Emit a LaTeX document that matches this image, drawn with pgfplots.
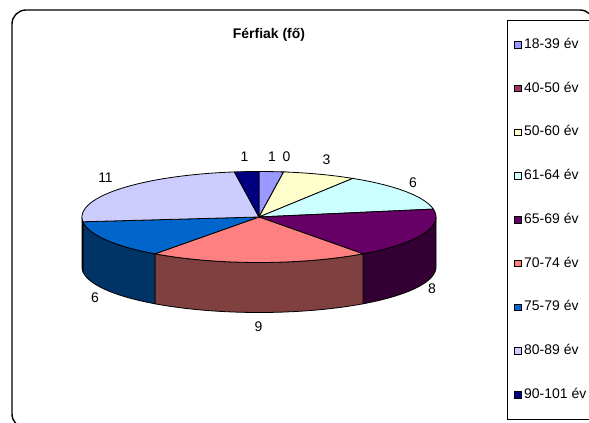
\documentclass[border=0pt]{standalone}
\usepackage{pgfplots}
\pgfplotsset{compat=1.18}
\usepackage{pgfplotstable}
\usepgfplotslibrary{fillbetween}
\usepackage{fontspec}
\setmainfont{Liberation Sans}

\definecolor{c0}{HTML}{9999FF}
\definecolor{c1}{HTML}{993366}
\definecolor{c2}{HTML}{FFFFCC}
\definecolor{c3}{HTML}{CCFFFF}
\definecolor{c4}{HTML}{660066}
\definecolor{c5}{HTML}{FF8080}
\definecolor{c6}{HTML}{0066CC}
\definecolor{c7}{HTML}{CCCCFF}
\definecolor{c8}{HTML}{000080}
\definecolor{s0}{HTML}{4C4C80}
\definecolor{s1}{HTML}{4C1933}
\definecolor{s2}{HTML}{808066}
\definecolor{s3}{HTML}{668080}
\definecolor{s4}{HTML}{330033}
\definecolor{s5}{HTML}{804040}
\definecolor{s6}{HTML}{003366}
\definecolor{s7}{HTML}{666680}
\definecolor{s8}{HTML}{000040}

% value, label position (pixel x centre, baseline y)
\pgfplotstableread{
value labx laby
1 272 162
0 286.5 162
3 326.5 165
6 413 188
8 432 294
9 258.5 332
6 95 303
11 105.5 183
1 244.5 162
}\piedata

\newcommand\cx{259}
\newcommand\cy{217}
\newcommand\rx{177}
\newcommand\ry{45.5}
\newcommand\dep{50}

\pgfmathsetmacro\total{0}%
\pgfplotsforeachungrouped \i in {0,...,8}{%
  \pgfplotstablegetelem{\i}{value}\of\piedata
  \pgfmathsetmacro\total{\total+\pgfplotsretval}%
}%
\pgfmathsetmacro\curang{90}%
\pgfplotsforeachungrouped \i in {0,...,8}{%
  \pgfplotstablegetelem{\i}{value}\of\piedata
  \expandafter\xdef\csname v\i\endcsname{\pgfplotsretval}%
  \pgfmathsetmacro\nextang{\curang-360*\pgfplotsretval/\total}%
  \expandafter\xdef\csname sa\i\endcsname{\curang}%
  \pgfmathsetmacro\eaX{min(\nextang,\curang-0.01)}%
  \expandafter\xdef\csname eb\i\endcsname{\eaX}%
  \pgfmathsetmacro\lo{max(\nextang,-180)}%
  \pgfmathsetmacro\hi{min(\curang,0)}%
  \expandafter\xdef\csname lo\i\endcsname{\lo}%
  \expandafter\xdef\csname hi\i\endcsname{\hi}%
  \pgfmathtruncatemacro\hs{\hi>\lo}%
  \expandafter\xdef\csname hs\i\endcsname{\hs}%
  \pgfplotstablegetelem{\i}{labx}\of\piedata
  \expandafter\xdef\csname lx\i\endcsname{\pgfplotsretval}%
  \pgfplotstablegetelem{\i}{laby}\of\piedata
  \expandafter\xdef\csname ly\i\endcsname{\pgfplotsretval}%
  \global\let\curang\nextang
}%

\begin{document}
\begin{tikzpicture}
\begin{axis}[
  at={(0,0)}, anchor=south west,
  scale only axis, width=589bp, height=423bp,
  xmin=0, xmax=589, ymin=0, ymax=423, y dir=reverse,
  axis lines=none,
  legend image code/.code={\draw[#1, line width=0.6bp] (0bp,-3.25bp) rectangle (6.5bp,3.25bp);},
  legend style={at={(0.8732,0.9095)}, anchor=north west, draw=none, fill=none,
    inner sep=0pt, outer sep=0pt, row sep=30.75bp, column sep=2.8bp,
    font=\fontsize{14}{16}\selectfont,
    nodes={inner sep=0pt, text height=10bp, text depth=3bp}},
  legend cell align=left,
]
% frames
\draw[line width=1.4bp, rounded corners=14bp] (axis cs:12,10) rectangle (axis cs:594,428);
\draw[line width=0.8bp] (axis cs:507,20) rectangle (axis cs:610,419);
% sides
\pgfplotsinvokeforeach{0,...,8}{%
  \ifnum\csname hs#1\endcsname=1
  \addplot[draw=none, forget plot, name path=T#1, domain=\csname lo#1\endcsname:\csname hi#1\endcsname, samples=40, variable=\t]
    ({\cx+\rx*cos(\t)},{\cy-\ry*sin(\t)});
  \addplot[draw=none, forget plot, name path=B#1, domain=\csname lo#1\endcsname:\csname hi#1\endcsname, samples=40, variable=\t]
    ({\cx+\rx*cos(\t)},{\cy-\ry*sin(\t)+\dep});
  \addplot[fill=s#1, draw=black, line width=0.8bp, forget plot] fill between[of=T#1 and B#1];
  \fi
}
% tops
\pgfplotsinvokeforeach{0,...,8}{%
  \addplot[fill=c#1, draw=black, line width=0.8bp, domain=\csname eb#1\endcsname:\csname sa#1\endcsname, samples=60, variable=\t]
    ({\cx+\rx*cos(\t)},{\cy-\ry*sin(\t)}) -- (axis cs:\cx,\cy) -- cycle;
}
% value labels
\pgfplotsinvokeforeach{0,...,8}{%
  \node[anchor=base, inner sep=0pt, font=\fontsize{14}{16}\selectfont]
    at (axis cs:\csname lx#1\endcsname,\csname ly#1\endcsname) {\csname v#1\endcsname};
}
\node[anchor=base, inner sep=0pt, font=\fontsize{14}{16}\selectfont\bfseries] at (axis cs:269,38.5) {Férfiak (fő)};
\legend{18-39 év,40-50 év,50-60 év,61-64 év,65-69 év,70-74 év,75-79 év,80-89 év,90-101 év}
\end{axis}
\pgfresetboundingbox
\useasboundingbox (0,0) rectangle (589bp,423bp);
\end{tikzpicture}
\end{document}
